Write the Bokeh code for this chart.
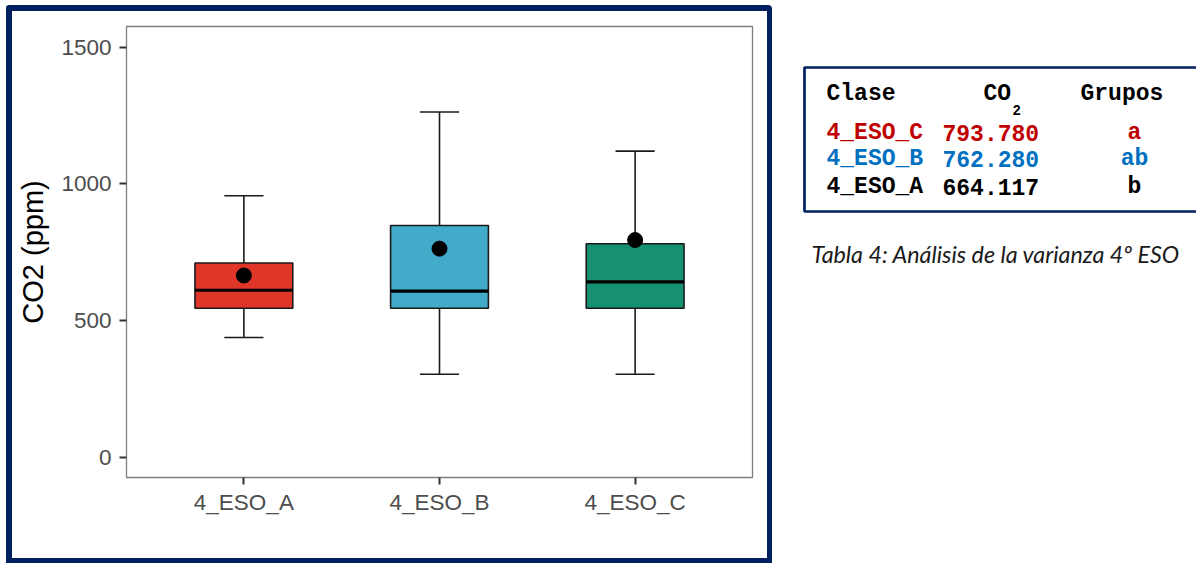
from bokeh.plotting import figure
from bokeh.models import ColumnDataSource, Range1d, FixedTicker
from bokeh.layouts import row, column
from bokeh.core.properties import value
from bokeh.embed import file_html
from bokeh.resources import INLINE

# ---------------- data ----------------
categories = ["4_ESO_A", "4_ESO_B", "4_ESO_C"]
lower_whisker = [437, 303, 303]
q1 = [544, 544, 544]
median = [610, 607, 641]
q3 = [710, 847, 780]
upper_whisker = [956, 1262, 1119]
means = [664.117, 762.280, 793.780]
box_colors = ["#e0362a", "#41abc9", "#159071"]
y_ticks = [0, 500, 1000, 1500]

table_classes = ["4_ESO_C", "4_ESO_B", "4_ESO_A"]
table_co2 = [793.780, 762.280, 664.117]
table_groups = ["a", "ab", "b"]
table_colors = ["#c00000", "#0070c0", "#000000"]
caption = "Tabla 4: Análisis de la varianza 4º ESO"

NAVY = "#002060"

# ---------------- box plot ----------------
xpos = [i + 1 for i in range(len(categories))]
box_w = 0.5
cap_w = 0.2

src = ColumnDataSource(dict(
    x=xpos,
    lw=lower_whisker, q1=q1, med=median, q3=q3, uw=upper_whisker,
    mean=means, color=box_colors,
    bl=[x - box_w / 2 for x in xpos], br=[x + box_w / 2 for x in xpos],
    cl=[x - cap_w / 2 for x in xpos], cr=[x + cap_w / 2 for x in xpos],
))

p = figure(width=755, height=547, output_backend="svg", toolbar_location=None,
           x_range=Range1d(0.4, 3.6), y_range=Range1d(-75, 1575),
           min_border_left=114, min_border_right=15, min_border_top=15, min_border_bottom=81)

# whiskers
p.segment(x0="x", y0="lw", x1="x", y1="q1", source=src, line_color="#1a1a1a", line_width=1.6)
p.segment(x0="x", y0="q3", x1="x", y1="uw", source=src, line_color="#1a1a1a", line_width=1.6)
p.segment(x0="cl", y0="lw", x1="cr", y1="lw", source=src, line_color="#1a1a1a", line_width=1.6)
p.segment(x0="cl", y0="uw", x1="cr", y1="uw", source=src, line_color="#1a1a1a", line_width=1.6)
# boxes
p.quad(left="bl", right="br", bottom="q1", top="q3", source=src,
       fill_color="color", line_color="#1a1a1a", line_width=1.6)
# medians
p.segment(x0="bl", y0="med", x1="br", y1="med", source=src, line_color="#000000", line_width=3.2)
# means
p.scatter(x="x", y="mean", source=src, size=15, color="#000000")

p.xgrid.visible = False
p.ygrid.visible = False
p.outline_line_color = "#7f7f7f"
p.outline_line_width = 1.3
p.background_fill_color = "white"
p.border_fill_color = "white"

for ax in (p.xaxis[0], p.yaxis[0]):
    ax.axis_line_color = None
    ax.major_tick_line_color = "#333333"
    ax.major_tick_line_width = 2
    ax.major_tick_in = 0
    ax.major_tick_out = 7
    ax.minor_tick_line_color = None
    ax.major_label_text_font = "Liberation Sans"
    ax.major_label_text_font_size = "22.5px"
    ax.major_label_text_color = "#4d4d4d"

p.xaxis[0].ticker = FixedTicker(ticks=xpos)
p.xaxis[0].major_label_overrides = {x: c for x, c in zip(xpos, categories)}
p.xaxis[0].major_label_standoff = 5

p.yaxis[0].ticker = FixedTicker(ticks=y_ticks)
p.yaxis[0].major_label_standoff = 8
p.yaxis[0].axis_label = "CO2 (ppm)"
p.yaxis[0].axis_label_text_font = "Liberation Sans"
p.yaxis[0].axis_label_text_font_size = "29px"
p.yaxis[0].axis_label_text_font_style = "normal"
p.yaxis[0].axis_label_text_color = "#000000"
p.yaxis[0].axis_label_standoff = 9

left = column(p, margin=(5, 0, 0, 6), styles={
    "border-left": f"6px solid {NAVY}",
    "border-top": f"6px solid {NAVY}",
    "border-right": f"5px solid {NAVY}",
    "border-bottom": f"5px solid {NAVY}",
    "border-top-right-radius": "4px",
    "border-top-left-radius": "3px",
})

# ---------------- table ----------------
t = figure(width=424, height=555, output_backend="svg", toolbar_location=None,
           x_range=Range1d(772, 1196), y_range=Range1d(555, 0),
           x_axis_type=None, y_axis_type=None,
           min_border=0, min_border_left=0, min_border_right=0, min_border_top=0, min_border_bottom=0)
t.xgrid.visible = False
t.ygrid.visible = False
t.outline_line_color = None
t.background_fill_color = "white"
t.border_fill_color = "white"

# table frame (right side runs off the page, as in the reference)
t.quad(left=[804], right=[1260], top=[67], bottom=[211],
       fill_color=None, line_color=NAVY, line_width=2.7)

mono = value("Liberation Mono")
hdr = ColumnDataSource(dict(x=[826, 983, 1080], y=[93, 93, 93], text=["Clase", "CO", "Grupos"]))
t.text(x="x", y="y", text="text", source=hdr, text_font=mono, text_font_style="bold",
       text_font_size="23px", text_color="#000000", text_align="left", text_baseline="alphabetic")
t.text(x=[1012], y=[109], text=["2"], text_font=mono, text_font_style="bold",
       text_font_size="14px", text_color="#000000", text_align="left", text_baseline="alphabetic")

row_y = [132, 158, 186]
rows = ColumnDataSource(dict(
    y=row_y,
    cls=table_classes,
    co2=[f"{v:.3f}" for v in table_co2],
    grp=table_groups,
    color=table_colors,
    xc=[826] * 3, xv=[942] * 3, xg=[1134] * 3,
))
t.text(x="xc", y="y", text="cls", source=rows, text_font=mono, text_font_style="bold",
       text_font_size="23px", text_color="color", text_align="left", text_baseline="alphabetic")
t.text(x="xv", y="y", text="co2", source=rows, text_font=mono, text_font_style="bold",
       text_font_size="23px", text_color="color", text_align="left", text_baseline="alphabetic")
t.text(x="xg", y="y", text="grp", source=rows, text_font=mono, text_font_style="bold",
       text_font_size="23px", text_color="color", text_align="center", text_baseline="alphabetic")

t.text(x=[811], y=[253], text=[caption], text_font=value("Lato"), text_font_style="italic",
       text_font_size="23.3px", text_color="#1a1a1a", text_align="left", text_baseline="alphabetic")

layout = row(left, t)

open("out.html", "w").write(file_html(layout, INLINE))
